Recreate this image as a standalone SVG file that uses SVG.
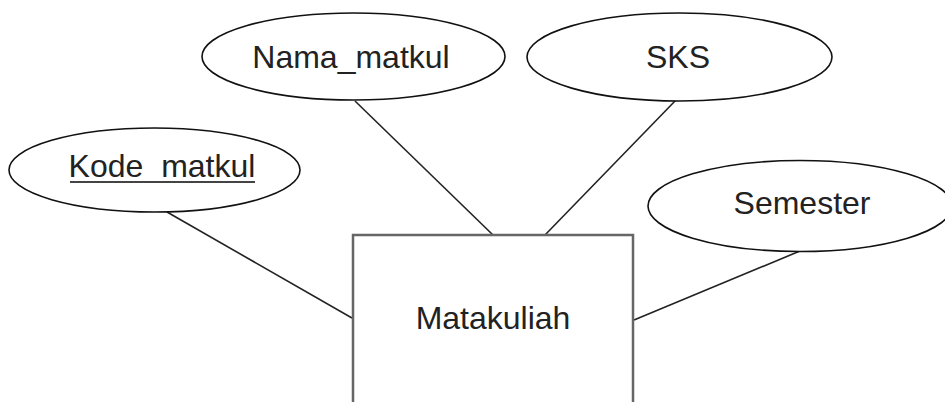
<svg xmlns="http://www.w3.org/2000/svg" width="945" height="402" viewBox="0 0 945 402">
<style>
.attr{fill:#fff;stroke:#111;stroke-width:1.6}
.ent{fill:#fff;stroke:#666;stroke-width:2.5}
.lbl{font-family:"Liberation Sans",Arial,sans-serif;font-size:32px;fill:#222;text-anchor:middle}
.conn line{stroke:#222;stroke-width:1.6}
</style>
<rect width="945" height="402" fill="#fff"/>
<g class="conn" id="connectors">
<line x1="167" y1="212" x2="352" y2="318"/>
<line x1="355" y1="101" x2="493" y2="235"/>
<line x1="676" y1="100" x2="545" y2="235"/>
<line x1="800" y1="251" x2="634" y2="320"/>
</g>
<g id="matakuliah">
<rect class="ent" x="353" y="235" width="280" height="200"/>
<text class="lbl" x="493" y="329">Matakuliah</text>
</g>
<g id="kode_matkul">
<ellipse class="attr" cx="154.5" cy="170" rx="145.5" ry="42"/>
<text class="lbl" x="162" y="177">Kode_matkul</text>
<line x1="70" y1="182" x2="255" y2="182" stroke="#444" stroke-width="2"/>
</g>
<g id="nama_matkul">
<ellipse class="attr" cx="353.5" cy="56.5" rx="151.5" ry="43.5"/>
<text class="lbl" x="351" y="68">Nama_matkul</text>
</g>
<g id="sks">
<ellipse class="attr" cx="679.5" cy="57" rx="152.5" ry="44"/>
<text class="lbl" x="678" y="68">SKS</text>
</g>
<g id="semester">
<ellipse class="attr" cx="800" cy="206" rx="152" ry="45.5"/>
<text class="lbl" x="802" y="214">Semester</text>
</g>
</svg>
